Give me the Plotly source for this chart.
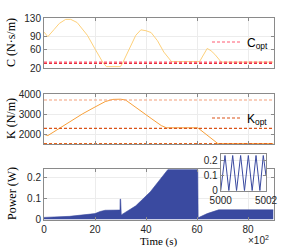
import plotly.graph_objects as go

# ---------------- data ----------------
C_t = [0, 1.5, 4, 6, 8.5, 10.5, 13, 17, 20, 23, 24.5, 30, 31, 34, 36, 38, 40, 42, 44.5, 47, 50, 61, 62.5, 64, 65.5, 67, 69.5, 90]
C_v = [99, 89, 105, 118, 127, 127, 120, 92, 62, 33, 23, 23, 33, 70, 92, 104, 102, 98, 80, 55, 34, 34, 50, 63, 58, 50, 33, 33]
C_opt_levels = [33, 30]

K_t = [0, 1.5, 5, 10, 15, 20, 24, 27, 30, 32, 36, 42, 46, 48, 60.3, 68.2, 90]
K_v = [1985, 1920, 2200, 2600, 3000, 3350, 3620, 3730, 3740, 3700, 3350, 2780, 2420, 2310, 2310, 1520, 1520]
K_opt_levels = [3700, 2280, 1515]

P_t = [0, 10, 20, 22, 24, 29.8, 29.85, 30.05, 30.3, 36, 41.7, 45, 48.6, 60.3, 60.45, 64, 68.5, 90]
P_v = [0.010, 0.015, 0.028, 0.038, 0.044, 0.045, 0.097, 0.097, 0.022, 0.065, 0.132, 0.185, 0.238, 0.238, 0.008, 0.028, 0.046, 0.046]

I_t = [5000.0, 5000.19, 5000.36, 5000.53, 5000.70, 5000.88, 5001.05, 5001.22, 5001.39, 5001.56, 5001.73, 5001.88, 5002.0]
I_v = [0.0, 0.235, 0.0, 0.235, 0.0, 0.235, 0.0, 0.235, 0.0, 0.235, 0.0, 0.235, 0.1]

C_ticks = [20, 60, 90, 130]
K_ticks = [2000, 3000, 4000]
P_ticks = [0, 0.1, 0.2]
T_ticks = [0, 20, 40, 60, 80]
I_xticks = [5000, 5002]

# ---------------- styles ----------------
W, H = 302, 252
SANS = "Liberation Sans"
SERIF = "Liberation Serif"
C_col = "#FDD07A"
C_opt_cols = ["#FF5A72", "#E8303F"]
K_col = "#F7A03A"
K_opt_cols = ["#F4A07A", "#D95319", "#E8641A"]
P_col = "#3A4AA0"

fig = go.Figure()

fig.add_trace(go.Scatter(x=C_t, y=C_v, mode="lines", line=dict(color=C_col, width=1),
                         showlegend=False, xaxis="x", yaxis="y"))
for i, lv in enumerate(C_opt_levels):
    fig.add_trace(go.Scatter(x=[0, 90], y=[lv, lv], mode="lines",
                             line=dict(color=C_opt_cols[i], width=1.2, dash="3px,2px"),
                             name="C<sub>opt</sub>", showlegend=(i == 0), legend="legend",
                             xaxis="x", yaxis="y"))

fig.add_trace(go.Scatter(x=K_t, y=K_v, mode="lines", line=dict(color=K_col, width=1),
                         showlegend=False, xaxis="x2", yaxis="y2"))
for i, lv in enumerate(K_opt_levels):
    fig.add_trace(go.Scatter(x=[0, 90], y=[lv, lv], mode="lines",
                             line=dict(color=K_opt_cols[i], width=1.2, dash="3px,2px"),
                             name="K<sub>opt</sub>", showlegend=(i == 1), legend="legend2",
                             xaxis="x2", yaxis="y2"))

fig.add_trace(go.Scatter(x=P_t, y=P_v, mode="lines", fill="tozeroy", fillcolor=P_col,
                         line=dict(color=P_col, width=0.6), showlegend=False,
                         xaxis="x3", yaxis="y3"))

fig.add_trace(go.Scatter(x=I_t, y=I_v, mode="lines", line=dict(color=P_col, width=1),
                         showlegend=False, xaxis="x4", yaxis="y4"))

def px_x(p):
    return p / W

def px_y(p):
    return 1 - p / H

xdom = [px_x(44), px_x(273.5)]
axis_common = dict(showline=True, linecolor="#8a8a8a", linewidth=1, mirror="ticks",
                   ticks="inside", ticklen=3, tickcolor="#8a8a8a", showgrid=True,
                   gridcolor="#ececec", gridwidth=1, zeroline=False, automargin=False,
                   tickfont=dict(family=SANS, size=10, color="#262626"))

fig.update_layout(
    template="none",
    width=W, height=H, margin=dict(l=0, r=0, t=0, b=0, autoexpand=False),
    paper_bgcolor="white", plot_bgcolor="white",
    xaxis=dict(domain=xdom, anchor="y", range=[0, 90], tickvals=T_ticks,
               showticklabels=False, **axis_common),
    yaxis=dict(domain=[px_y(68), px_y(18)], anchor="x", range=[20, 130],
               tickvals=C_ticks, **axis_common),
    xaxis2=dict(domain=xdom, anchor="y2", range=[0, 90], tickvals=T_ticks,
                showticklabels=False, **axis_common),
    yaxis2=dict(domain=[px_y(144), px_y(94)], anchor="x2", range=[1500, 4000],
                tickvals=K_ticks, **axis_common),
    xaxis3=dict(domain=xdom, anchor="y3", range=[0, 90], tickvals=T_ticks,
                **axis_common),
    yaxis3=dict(domain=[px_y(219.5), px_y(169.3)], anchor="x3", range=[0, 0.239],
                tickvals=P_ticks, **axis_common),
    xaxis4=dict(domain=[px_x(220.7), px_x(266)], anchor="y4", range=[5000, 5002],
                tickvals=I_xticks, **axis_common),
    yaxis4=dict(domain=[px_y(190.7), px_y(154)], anchor="x4", range=[0, 0.245],
                tickvals=P_ticks, **axis_common),
    legend=dict(x=px_x(273), y=px_y(42), xanchor="right", yanchor="middle",
                bgcolor="rgba(0,0,0,0)", borderwidth=0, itemwidth=30,
                font=dict(family=SANS, size=12, color="#000")),
    legend2=dict(x=px_x(273), y=px_y(118), xanchor="right", yanchor="middle",
                 bgcolor="rgba(0,0,0,0)", borderwidth=0, itemwidth=30,
                 font=dict(family=SANS, size=12, color="#000")),
)

ann_font = dict(family=SERIF, size=12, color="#000")
common_ann = dict(xref="paper", yref="paper", showarrow=False,
                  xanchor="center", yanchor="middle")
fig.add_annotation(x=px_x(11), y=px_y(43), text="C (N·s/m)", textangle=-90,
                   font=ann_font, **common_ann)
fig.add_annotation(x=px_x(11), y=px_y(119), text="K (N/m)", textangle=-90,
                   font=ann_font, **common_ann)
fig.add_annotation(x=px_x(12), y=px_y(194), text="Power (W)", textangle=-90,
                   font=ann_font, **common_ann)
fig.add_annotation(x=px_x(158.7), y=px_y(241), text="Time (s)",
                   font=dict(family=SERIF, size=11, color="#000"), **common_ann)
fig.add_annotation(x=px_x(258), y=px_y(240), text="×10<sup>2</sup>",
                   font=dict(family=SANS, size=10, color="#262626"), **common_ann)

fig.write_html("out.html", config={"displayModeBar": False},
               post_script="document.body.style.margin='0';document.body.style.padding='0';")
